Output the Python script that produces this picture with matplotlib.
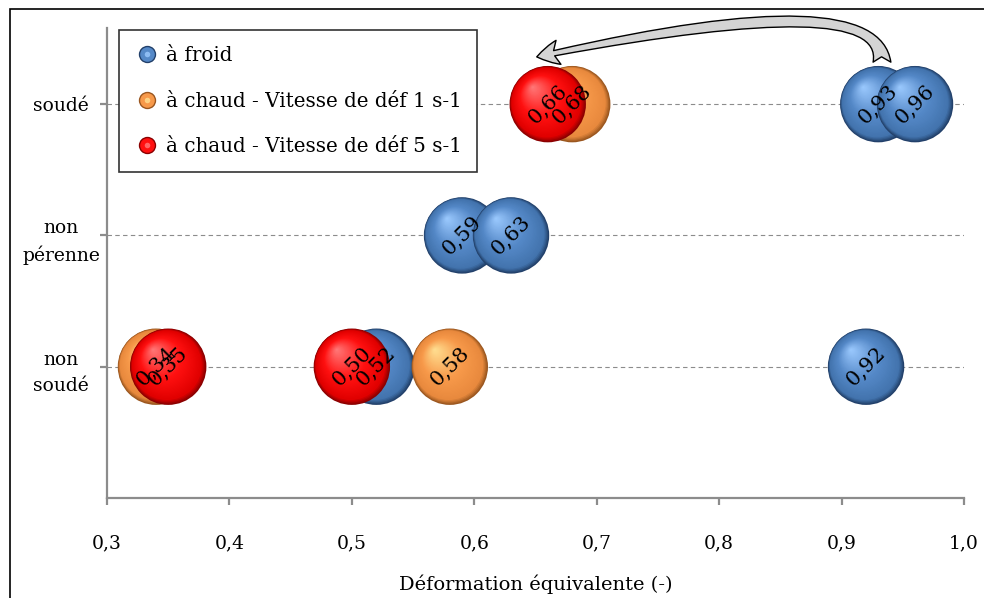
import matplotlib
matplotlib.use("Agg")
import matplotlib.pyplot as plt
import numpy as np
from matplotlib.colors import LinearSegmentedColormap
from matplotlib.lines import Line2D
from matplotlib.legend_handler import HandlerTuple
from matplotlib.patches import Rectangle
from matplotlib.transforms import offset_copy

plt.rcParams['font.family'] = ['DejaVu Serif']

# categories on the y axis (bottom to top)
categories = ["non\nsoudé", "non\npérenne", "soudé"]
cat_pos = [1, 2, 3]

# series: (x value, category index)
froid_x = [0.93, 0.96, 0.59, 0.63, 0.52, 0.92]
froid_y = [3, 3, 2, 2, 1, 1]
chaud1_x = [0.68, 0.34, 0.58]
chaud1_y = [3, 1, 1]
chaud5_x = [0.66, 0.35, 0.50]
chaud5_y = [3, 1, 1]

series = [
    ("à froid", froid_x, froid_y, ["#22406a", "#4273ad", "#5589c8", "#9ccaff"]),
    ("à chaud - Vitesse de déf 1 s-1", chaud1_x, chaud1_y, ["#9a561f", "#e8893d", "#f7994a", "#ffe092"]),
    ("à chaud - Vitesse de déf 5 s-1", chaud5_x, chaud5_y, ["#8a0000", "#e00000", "#ff1010", "#ff7a7a"]),
]

xticks = [0.3, 0.4, 0.5, 0.6, 0.7, 0.8, 0.9, 1.0]

fig = plt.figure(figsize=(9.84, 5.98), dpi=100)
ax = fig.add_axes([107 / 984, 1 - 498 / 598, 857 / 984, 470 / 598])
ax.set_xlim(0.3, 1.0)
ax.set_ylim(0, 3.58)

# dashed guide lines
for yc in cat_pos:
    ax.axhline(yc, color="#8c8c8c", lw=0.8, ls=(0, (4, 3)), zorder=1)

R = 27.5  # bubble radius in points
N = 45
z = 10
for name, xs, ys, cols in series:
    cmap = LinearSegmentedColormap.from_list(name, list(zip([0, 0.08, 0.45, 1], cols)))
    for x, y in zip(xs, ys):
        for t in np.linspace(0, 0.97, N):
            r = R * (1 - t)
            tr = offset_copy(ax.transData, fig=fig, x=-0.4 * R * t, y=0.45 * R * t, units='points')
            ax.scatter([x], [y], s=(2 * r) ** 2, color=cmap(t), edgecolors='none',
                       transform=tr, zorder=z)
            z += 0.01
        z += 1

# value labels on top of all bubbles
for name, xs, ys, cols in series:
    for x, y in zip(xs, ys):
        ax.text(x, y, f"{x:.2f}".replace(".", ","), rotation=45, ha='center', va='center',
                fontsize=15, color='black', zorder=200, rotation_mode='anchor')

# curved arrow
ax.annotate("", xy=(0.651, 3.36), xytext=(0.933, 3.32),
            arrowprops=dict(arrowstyle="fancy,head_length=1.0,head_width=1.1,tail_width=0.8",
                            connectionstyle="angle3,angleA=90,angleB=12",
                            fc="#d4d4d4", ec="black", lw=1.0, shrinkA=0, shrinkB=0,
                            mutation_scale=16),
            annotation_clip=False, zorder=210)

# axes styling
for s in ["top", "right"]:
    ax.spines[s].set_visible(False)
for s in ["left", "bottom"]:
    ax.spines[s].set_color("#8c8c8c")
    ax.spines[s].set_linewidth(1.6)
ax.set_xticks(xticks)
ax.set_xticklabels([f"{v:.1f}".replace(".", ",") for v in xticks])
ax.set_yticks(cat_pos)
ax.set_yticklabels(categories, linespacing=1.6)
plt.setp(ax.get_yticklabels(), ha='center', multialignment='center')
ax.tick_params(axis='x', colors="#8c8c8c", labelcolor='black', labelsize=13.5,
               length=5, width=1.6, pad=21)
ax.tick_params(axis='y', colors="#8c8c8c", labelcolor='black', labelsize=13.5,
               length=5, width=1.6, pad=28)
ax.set_xlabel("Déformation équivalente (-)", fontsize=14, labelpad=16)

# legend with small sphere markers
handles = []
for name, xs, ys, cols in series:
    h = (Line2D([], [], ls='none', marker='o', ms=12.5, mfc=cols[0], mec='none'),
         Line2D([], [], ls='none', marker='o', ms=10.5, mfc=cols[2], mec='none'),
         Line2D([], [], ls='none', marker='o', ms=4, mfc=cols[3], mec='none', alpha=0.8))
    handles.append(h)
leg = ax.legend(handles, [s[0] for s in series], handler_map={tuple: HandlerTuple(ndivide=1, pad=0)},
                loc='upper left', bbox_to_anchor=(0.014, 0.996), borderaxespad=0,
                fontsize=14.3, labelspacing=1.35, handlelength=1.2, handletextpad=0.35,
                borderpad=0.8, fancybox=False, framealpha=1, edgecolor="#333333")
leg.get_frame().set_linewidth(1.2)
leg.set_zorder(300)

# outer frame
fig.add_artist(Rectangle((10 / 984, -0.05), 1.0, 1.035, transform=fig.transFigure,
                         fill=False, ec='black', lw=1.2))

fig.savefig("out.png", dpi=100)
